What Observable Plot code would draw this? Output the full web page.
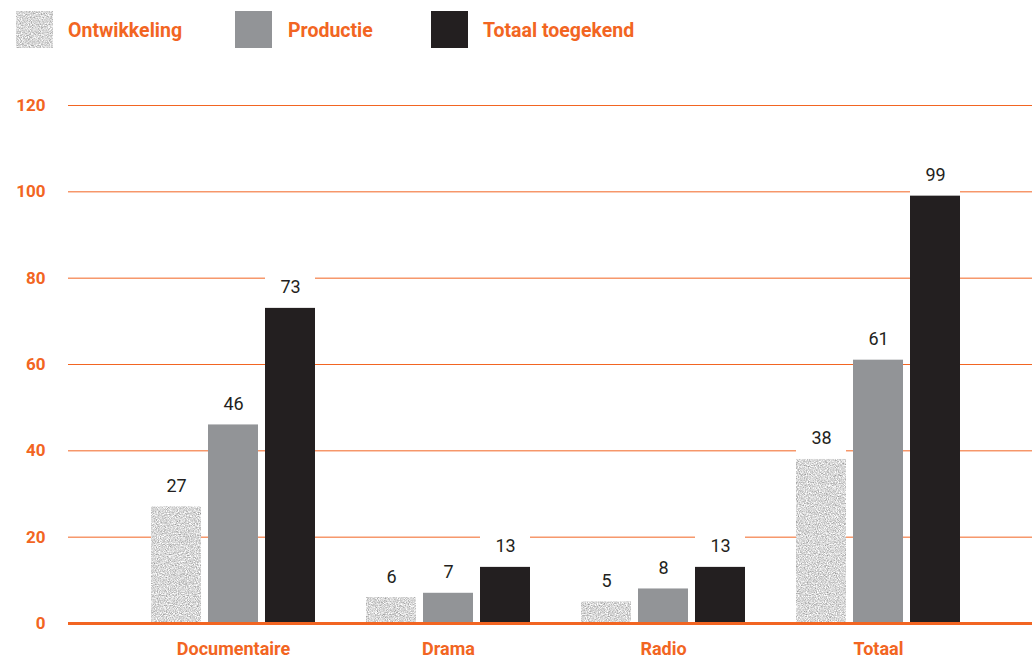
<!DOCTYPE html>
<html><head><meta charset="utf-8">
<script src="https://cdn.jsdelivr.net/npm/d3@7"></script>
<script src="https://cdn.jsdelivr.net/npm/@observablehq/plot@0.6"></script>
<style>
body{margin:0;background:#fff;font-family:Roboto,sans-serif;}
#legend{position:relative;height:60px;width:1032px;}
.sw{position:absolute;top:11px;width:37px;height:37px;}
.lt{position:absolute;top:21px;color:#f26522;font-weight:700;font-size:19.5px;line-height:20px;white-space:nowrap;}
</style></head><body>
<svg width="0" height="0" style="position:absolute">
  <defs>
    <filter id="speck" x="0" y="0" width="1" height="1" color-interpolation-filters="sRGB">
      <feTurbulence type="fractalNoise" baseFrequency="0.9" numOctaves="3" seed="7" result="n"/>
      <feColorMatrix in="n" type="matrix" values="0.65 0 0 0 0.52  0.65 0 0 0 0.52  0.65 0 0 0 0.52  0 0 0 0 1"/>
      <feComposite in2="SourceGraphic" operator="in"/>
    </filter>
  </defs>
</svg>
<div id="legend"></div>
<div id="chart"></div>
<script>
const categories = ["Documentaire", "Drama", "Radio", "Totaal"];
const series = ["Ontwikkeling", "Productie", "Totaal toegekend"];
const ontwikkeling = [27, 6, 5, 38];
const productie = [46, 7, 8, 61];
const totaalToegekend = [73, 13, 13, 99];
const yTicks = [0, 20, 40, 60, 80, 100, 120];

const colors = ["#d2d2d2", "#929497", "#231f20"];
const orange = "#f26522";
const offsets = [-57, 0, 57];

const valuesBySeries = [ontwikkeling, productie, totaalToegekend];
const rows = valuesBySeries.map(vals => categories.map((c, i) => ({category: c, value: vals[i]})));

// legend
const legend = document.getElementById("legend");
const swX = [16, 235, 431], ltX = [68, 288, 483];
series.forEach((s, j) => {
  const sw = document.createElementNS("http://www.w3.org/2000/svg", "svg");
  sw.setAttribute("class", "sw");
  sw.style.left = swX[j] + "px";
  sw.setAttribute("width", 37); sw.setAttribute("height", 37);
  const r = document.createElementNS("http://www.w3.org/2000/svg", "rect");
  r.setAttribute("width", 37); r.setAttribute("height", 37);
  r.setAttribute("fill", colors[j]);
  if (j === 0) r.setAttribute("filter", "url(#speck)");
  sw.appendChild(r);
  legend.appendChild(sw);
  const t = document.createElement("div");
  t.className = "lt";
  t.style.left = ltX[j] + "px";
  t.textContent = s;
  legend.appendChild(t);
});

const marks = [
  Plot.ruleY(yTicks.filter(d => d > 0), {stroke: orange, strokeWidth: 1}),
  Plot.text(yTicks, {y: d => d, text: d => String(d), frameAnchor: "left", textAnchor: "end", dx: -23, fill: orange, fontWeight: "bold", fontSize: 17})
];
rows.forEach((rs, j) => {
  marks.push(Plot.barY(rs, {x: "category", y1: "value", y2: "value", insetTop: -32, dx: offsets[j], fill: "white"}));
});
rows.forEach((rs, j) => {
  marks.push(Plot.barY(rs, {x: "category", y: "value", dx: offsets[j], fill: colors[j], className: "s" + j}));
  marks.push(Plot.text(rs, {x: "category", y: "value", text: d => String(d.value), dx: offsets[j], dy: -15, lineAnchor: "bottom", fill: "#231f20", fontSize: 18}));
});
marks.push(Plot.ruleY([0], {stroke: orange, strokeWidth: 3}));
marks.push(Plot.axisX({anchor: "bottom", tickSize: 0, tickPadding: 19, label: null, fontSize: 18, fontWeight: "bold", fill: orange}));

const chart = Plot.plot({
  width: 1032,
  height: 602,
  marginTop: 45,
  marginBottom: 39,
  marginLeft: 68,
  marginRight: 0,
  style: {fontFamily: "Roboto, sans-serif", background: "#fff"},
  x: {domain: categories, range: [124, 987], paddingInner: 0.768, paddingOuter: 0.384, axis: null},
  y: {domain: [0, 120], axis: null},
  marks
});
chart.querySelectorAll(".s0 rect, rect.s0, g.s0 rect").forEach(r => r.setAttribute("filter", "url(#speck)"));
document.getElementById("chart").appendChild(chart);
</script>
</body></html>
